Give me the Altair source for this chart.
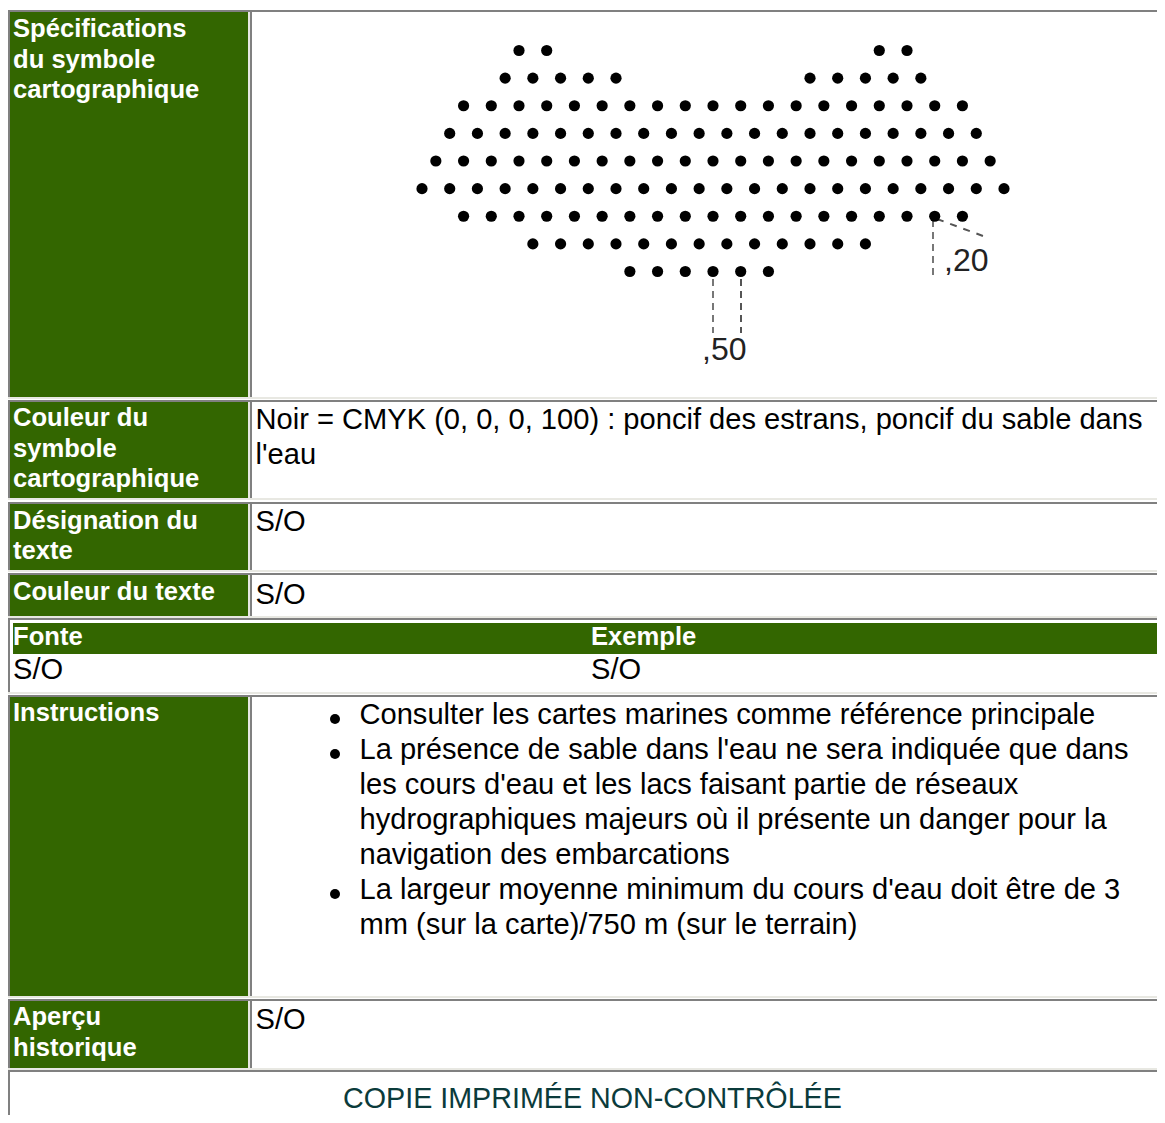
import altair as alt
import pandas as pd

GREEN = "#336600"
GRAY = "#808080"
LIGHT = "#e8e8e2"
WHITE = "#ffffff"
BLACK = "#000000"
TEAL = "#0b3b3b"

# ---- text content -------------------------------------------------------
label_lines = [
    "Spécifications", "du symbole", "cartographique",
    "Couleur du", "symbole", "cartographique",
    "Désignation du", "texte",
    "Couleur du texte",
    "Fonte", "Exemple",
    "Instructions",
    "Aperçu", "historique",
]
body_lines = [
    "Noir = CMYK (0, 0, 0, 100) : poncif des estrans, poncif du sable dans",
    "l'eau", "S/O", "S/O", "S/O", "S/O", "S/O",
]
list_lines = [
    "Consulter les cartes marines comme référence principale",
    "La présence de sable dans l'eau ne sera indiquée que dans",
    "les cours d'eau et les lacs faisant partie de réseaux",
    "hydrographiques majeurs où il présente un danger pour la",
    "navigation des embarcations",
    "La largeur moyenne minimum du cours d'eau doit être de 3",
    "mm (sur la carte)/750 m (sur le terrain)",
]
footer = ["COPIE IMPRIMÉE NON-CONTRÔLÉE"]
dim_labels = [",50", ",20"]

# ---- sand pattern: half-step column numbers of each dot row -------------
dot_rows = [
    [7, 9, 33, 35],
    [6, 8, 10, 12, 14, 28, 30, 32, 34, 36],
    [3, 5, 7, 9, 11, 13, 15, 17, 19, 21, 23, 25, 27, 29, 31, 33, 35, 37, 39],
    [2, 4, 6, 8, 10, 12, 14, 16, 18, 20, 22, 24, 26, 28, 30, 32, 34, 36, 38, 40],
    [1, 3, 5, 7, 9, 11, 13, 15, 17, 19, 21, 23, 25, 27, 29, 31, 33, 35, 37, 39, 41],
    [0, 2, 4, 6, 8, 10, 12, 14, 16, 18, 20, 22, 24, 26, 28, 30, 32, 34, 36, 38, 40, 42],
    [3, 5, 7, 9, 11, 13, 15, 17, 19, 21, 23, 25, 27, 29, 31, 33, 35, 37, 39],
    [8, 10, 12, 14, 16, 18, 20, 22, 24, 26, 28, 30, 32],
    [15, 17, 19, 21, 23, 25],
]
dots = pd.DataFrame(
    [{"row": r, "col": c} for r, cols in enumerate(dot_rows) for c in cols]
)

# ---- page-space layout (table geometry) ---------------------------------
R = 1157
BOTTOM = 1115
rows = [(12, 397), (402, 498), (504, 570), (575, 616), (697, 996), (1001, 1068)]
rect_rows = []


def rect(x0, y0, x1, y1, colour):
    rect_rows.append({"x0": x0, "y0": y0, "x1": x1, "y1": y1, "c": colour})


for y0, y1 in rows:
    rect(8, y0 - 2, R, y0, GRAY)        # top rules
    rect(8, y0, 10, y1, GRAY)           # left rule
    rect(10, y0, 248, y1, GREEN)        # label cell
    rect(248, y0, 250, y1, LIGHT)
    rect(250, y0, 252, y1, GRAY)
    rect(8, y1, R, y1 + 2, LIGHT)       # bottom rules
# nested font table
rect(8, 618, R, 620, GRAY)
rect(8, 620, 10, 692, GRAY)
rect(13, 623, R, 654, GREEN)
rect(8, 692, R, 694, LIGHT)
# footer cell
rect(8, 1070, R, 1072, GRAY)
rect(8, 1072, 10, BOTTOM, GRAY)
# crop edges of the scanned symbol
rect(1008, 178, 1016, 198, WHITE)
rect(408, 178, 416, 198, WHITE)
rect(510, 36, 920, 44, WHITE)
rects = pd.DataFrame(rect_rows)

label_x = [13, 13, 13, 13, 13, 13, 13, 13, 13, 13, 591, 13, 13, 13]
label_y = [37, 68, 98, 425.5, 456.5, 486.5, 528.5, 558.5, 600, 645, 645, 721, 1025, 1056]
body_x = [255.5, 255.5, 255.5, 255.5, 13, 591, 255.5]
body_y = [429, 464, 531, 604, 679, 679, 1029]
list_y = [724, 759, 794, 829, 864, 899, 934]
bullet_y = [719, 754, 894]

X = alt.Scale(domain=[8, R], range=[0, R - 8], nice=False, zero=False)
Y = alt.Scale(domain=[8, BOTTOM], range=[0, BOTTOM - 8], nice=False, zero=False)
xe = lambda f: alt.X(f, type="quantitative", scale=X, axis=None)
ye = lambda f: alt.Y(f, type="quantitative", scale=Y, axis=None)


def text_layer(lines, xs, ys, **mark):
    d = pd.DataFrame({"t": lines, "x": xs, "y": ys})
    return alt.Chart(d).mark_text(
        align="left", baseline="alphabetic", **mark
    ).encode(x=xe("x"), y=ye("y"), text="t:N")


def leader(x0, y0, x1, y1, colour, dash):
    d = pd.DataFrame({"x": [x0], "y": [y0], "x2": [x1], "y2": [y1]})
    return alt.Chart(d).mark_rule(color=colour, strokeWidth=2, strokeDash=dash).encode(
        x=xe("x"), y=ye("y"), x2="x2:Q", y2="y2:Q"
    )


rect_layer = alt.Chart(rects).mark_rect(strokeWidth=0).encode(
    x=xe("x0"), x2="x1:Q", y=ye("y0"), y2="y1:Q",
    color=alt.Color("c:N", scale=None, legend=None),
)
dot_layer = alt.Chart(dots).mark_circle(size=125, color=BLACK, opacity=1).encode(
    x=alt.X("col:Q", axis=None, scale=alt.Scale(domain=[0, 42], range=[414, 996], nice=False, zero=False)),
    y=alt.Y("row:Q", axis=None, scale=alt.Scale(domain=[0, 8], range=[42.5, 263.5], nice=False, zero=False)),
)
bullets = alt.Chart(pd.DataFrame({"x": [335] * 3, "y": bullet_y})).mark_circle(
    size=100, color=BLACK, opacity=1
).encode(x=xe("x"), y=ye("y"))

SANS = "Liberation Sans"
layers = [
    rect_layer,
    leader(713, 279, 713, 333, "#777777", [7, 5]),
    leader(741, 279, 741, 333, "#555555", [7, 5]),
    leader(933, 220, 933, 276, "#777777", [7, 5]),
    leader(937, 219, 983, 236, "#555555", [7, 7]),
    dot_layer,
    text_layer(dim_labels, [702, 944], [360, 271], font=SANS, fontSize=32, color="#222222"),
    text_layer(label_lines, label_x, label_y, font=SANS, fontSize=25.6,
               fontWeight="bold", color=WHITE),
    text_layer(body_lines, body_x, body_y, font=SANS, fontSize=29.1, color=BLACK),
    text_layer(list_lines, [359.5] * 7, list_y, font=SANS, fontSize=29.1, color=BLACK),
    bullets,
    text_layer(footer, [343], [1108], font=SANS, fontSize=28.7, color=TEAL),
]

chart = (
    alt.layer(*layers)
    .resolve_scale(x="independent", y="independent")
    .properties(width=R - 8, height=BOTTOM - 8, padding=0, background=WHITE)
    .configure_view(stroke=None)
)
chart.save("out.html", embed_options={"renderer": "svg", "actions": False})
